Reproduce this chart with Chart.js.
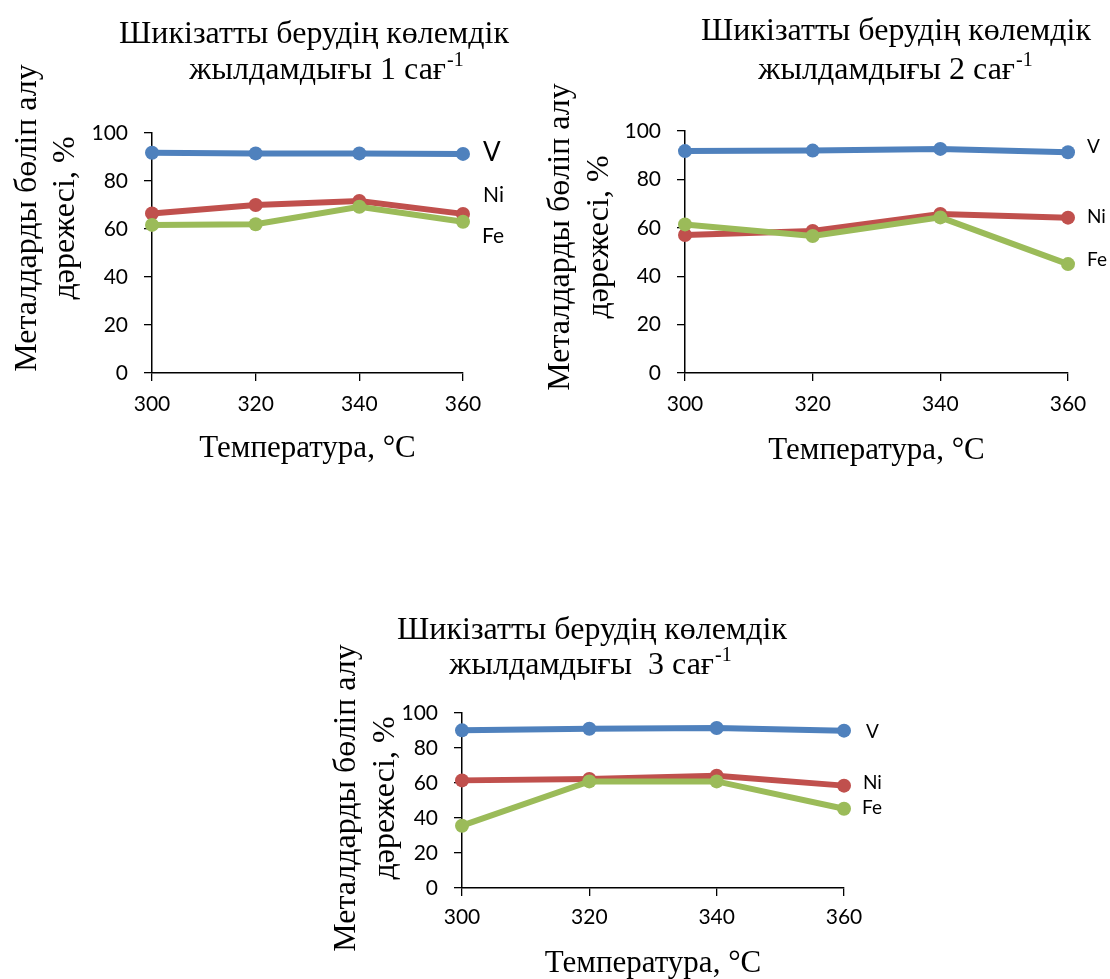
<!DOCTYPE html>
<html>
<head>
<meta charset="utf-8">
<script src="https://cdn.jsdelivr.net/npm/chart.js@4.4.1/dist/chart.umd.min.js"></script>
<style>
html, body { margin: 0; padding: 0; background: #ffffff; }
#wrap { position: relative; width: 1110px; height: 979px; overflow: hidden; background: #ffffff; }
#wrap canvas { position: absolute; left: 0; top: 0; }
</style>
</head>
<body>
<div id="wrap">
  <canvas id="c1" width="1110" height="979"></canvas>
  <canvas id="c2" width="1110" height="979"></canvas>
  <canvas id="c3" width="1110" height="979"></canvas>
</div>
<script>
// ---------------- DATA ----------------
const temperatures = [300, 320, 340, 360];
const yTickValues = [0, 20, 40, 60, 80, 100];
const seriesNames = ['V', 'Ni', 'Fe'];

// feed rate 1 h^-1
const vRate1  = [91.8, 91.5, 91.5, 91.3];
const niRate1 = [66.5, 70.0, 71.7, 66.3];
const feRate1 = [61.7, 62.0, 69.3, 63.0];

// feed rate 2 h^-1
const vRate2  = [91.7, 91.9, 92.6, 91.2];
const niRate2 = [57.0, 58.7, 65.7, 64.2];
const feRate2 = [61.4, 56.6, 64.3, 45.0];

// feed rate 3 h^-1
const vRate3  = [90.1, 91.0, 91.4, 89.9];
const niRate3 = [61.5, 62.3, 64.2, 58.5];
const feRate3 = [35.6, 60.9, 60.9, 45.3];

const titleLine1 = 'Шикізатты берудің көлемдік';
const titleLine2 = ['жылдамдығы 1 сағ', 'жылдамдығы 2 сағ', 'жылдамдығы  3 сағ'];
const titleSup = '-1';
const yTitleLines = ['Металдарды бөліп алу', 'дәрежесі, %'];
const xTitleText = 'Температура, °C';

// ---------------- STYLE ----------------
const COLORS = ['#4F81BD', '#C0504D', '#9BBB59'];
const SERIF = "'Liberation Serif', 'Times New Roman', serif";
const SANS = "Lato, 'Open Sans', sans-serif";

const textDecor = {
  id: 'textDecor',
  afterDraw(chart, args, o) {
    const ctx = chart.ctx;
    const ca = chart.chartArea;
    ctx.save();
    ctx.fillStyle = '#000';
    const ts = o.titleSize;
    const drawLine = (main, sup, cx, y) => {
      ctx.font = ts + 'px ' + SERIF;
      const w1 = ctx.measureText(main).width;
      let w2 = 0;
      const ss = Math.round(ts * 0.62);
      if (sup) { ctx.font = ss + 'px ' + SERIF; w2 = ctx.measureText(sup).width; }
      const x0 = cx - (w1 + w2) / 2;
      ctx.textAlign = 'left';
      ctx.textBaseline = 'alphabetic';
      ctx.font = ts + 'px ' + SERIF;
      ctx.fillText(main, x0, y);
      if (sup) {
        ctx.font = ss + 'px ' + SERIF;
        ctx.fillText(sup, x0 + w1 + 1, y - ts * 0.40);
      }
    };
    drawLine(titleLine1, null, o.t1x, o.t1y);
    drawLine(o.line2, titleSup, o.t2x, o.t2y);

    // Y axis title (rotated)
    ctx.font = o.ySize + 'px ' + SERIF;
    ctx.textAlign = 'center';
    ctx.textBaseline = 'alphabetic';
    yTitleLines.forEach((line, i) => {
      ctx.save();
      ctx.translate(o.yx[i], o.yc);
      ctx.rotate(-Math.PI / 2);
      ctx.fillText(line, 0, 0);
      ctx.restore();
    });

    // X axis title
    ctx.font = o.xSize + 'px ' + SERIF;
    ctx.textAlign = 'center';
    ctx.fillText(xTitleText, (ca.left + ca.right) / 2, o.xBase);

    // Series labels next to the last point
    ctx.textAlign = 'left';
    ctx.textBaseline = 'middle';
    chart.data.datasets.forEach((ds, i) => {
      const meta = chart.getDatasetMeta(i);
      const pt = meta.data[meta.data.length - 1];
      const lb = o.labels[i];
      ctx.font = lb.size + 'px ' + SANS;
      ctx.fillText(ds.label, pt.x + lb.dx, pt.y + lb.dy);
    });
    ctx.restore();
  }
};

function makeChart(id, vals, area, decor, tickPadX) {
  const YW = 80, XH = 60;
  const datasets = vals.map((arr, i) => ({
    label: seriesNames[i],
    data: arr,
    borderColor: COLORS[i],
    backgroundColor: COLORS[i],
    pointBackgroundColor: COLORS[i],
    pointBorderColor: COLORS[i],
    borderWidth: 6,
    pointRadius: 7,
    pointBorderWidth: 0,
    tension: 0,
    clip: false,
    order: 3 - i
  }));
  return new Chart(document.getElementById(id), {
    type: 'line',
    data: { labels: temperatures.map(String), datasets },
    options: {
      responsive: false,
      animation: false,
      events: [],
      layout: {
        padding: {
          left: area.left - YW,
          top: area.top,
          right: 1110 - area.right,
          bottom: 979 - area.bottom - XH
        }
      },
      plugins: {
        legend: { display: false },
        tooltip: { enabled: false },
        title: { display: false },
        textDecor: decor
      },
      scales: {
        x: {
          type: 'category',
          offset: false,
          afterFit(s) { s.height = XH; },
          grid: { display: true, offset: false, drawOnChartArea: false, drawTicks: true, tickLength: 8, color: '#000', tickColor: '#000', lineWidth: 1.3 },
          border: { display: true, color: '#000', width: 1.5 },
          ticks: { color: '#000', font: { family: SANS, size: 21 }, padding: tickPadX, maxRotation: 0, autoSkip: false }
        },
        y: {
          type: 'linear',
          min: 0, max: 100,
          afterFit(s) { s.width = YW; },
          afterBuildTicks(s) { s.ticks = yTickValues.map(v => ({ value: v })); },
          grid: { display: true, drawOnChartArea: false, drawTicks: true, tickLength: 8, color: '#000', tickColor: '#000', lineWidth: 1.3 },
          border: { display: true, color: '#000', width: 1.5 },
          ticks: { color: '#000', font: { family: SANS, size: 21 }, padding: 16 }
        }
      }
    },
    plugins: [textDecor]
  });
}

makeChart('c1', [vRate1, niRate1, feRate1],
  { left: 152, top: 133, right: 463, bottom: 373 },
  {
    titleSize: 32, line2: titleLine2[0], t1x: 314, t1y: 43, t2x: 326, t2y: 79,
    ySize: 32, yx: [36, 74], yc: 218, xSize: 31, xBase: 457,
    labels: [ { size: 26, dx: 20, dy: -1.5 }, { size: 21, dx: 20, dy: -19 }, { size: 21, dx: 19, dy: 14 } ]
  }, 11);

makeChart('c2', [vRate2, niRate2, feRate2],
  { left: 685, top: 131, right: 1068, bottom: 373 },
  {
    titleSize: 32, line2: titleLine2[1], t1x: 896, t1y: 40, t2x: 895, t2y: 79,
    ySize: 32, yx: [569, 608], yc: 237, xSize: 31, xBase: 459,
    labels: [ { size: 19, dx: 19, dy: -5 }, { size: 19, dx: 19, dy: -1 }, { size: 19, dx: 19, dy: -4.5 } ]
  }, 11);

makeChart('c3', [vRate3, niRate3, feRate3],
  { left: 462, top: 713, right: 844, bottom: 888 },
  {
    titleSize: 32, line2: titleLine2[2], t1x: 592, t1y: 639, t2x: 590, t2y: 674,
    ySize: 32, yx: [355, 394], yc: 798, xSize: 31, xBase: 972,
    labels: [ { size: 19, dx: 22, dy: 1 }, { size: 19, dx: 19, dy: -2.5 }, { size: 19, dx: 18, dy: -1 } ]
  }, 9);
</script>
</body>
</html>
